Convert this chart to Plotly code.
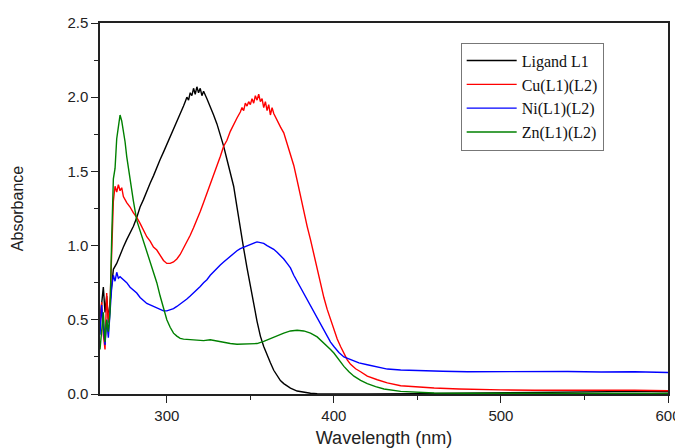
import plotly.graph_objects as go

# ---- data ----
wl_ligand = [260, 261, 262, 263, 264, 265, 266, 267, 268, 270, 272, 274, 276, 278, 280, 282, 284, 286, 288, 290,
             292, 294, 296, 298, 300, 302, 304, 306, 308, 310, 311, 312, 313, 314, 315, 316, 317, 318, 319, 320,
             321, 322, 324, 326, 328, 330, 332, 334, 336, 338, 340, 342, 344, 346, 348, 350, 352, 354, 356, 358,
             360, 362, 364, 366, 368, 370, 374, 378, 382, 386, 390, 400, 420, 450, 480, 500, 520, 540, 560, 580, 600]
abs_ligand = [0.50, 0.62, 0.72, 0.55, 0.66, 0.50, 0.62, 0.75, 0.84, 0.88, 0.94, 0.99, 1.04, 1.08, 1.13, 1.19, 1.26, 1.31, 1.37, 1.42,
              1.47, 1.53, 1.58, 1.63, 1.68, 1.73, 1.79, 1.83, 1.89, 1.94, 1.97, 2.00, 1.98, 2.03, 2.01, 2.06, 2.02, 2.07, 2.03, 2.06,
              2.01, 2.04, 1.99, 1.94, 1.88, 1.82, 1.75, 1.67, 1.58, 1.49, 1.40, 1.26, 1.11, 0.98, 0.85, 0.72, 0.61, 0.49, 0.39, 0.32,
              0.26, 0.21, 0.16, 0.12, 0.09, 0.07, 0.04, 0.02, 0.01, 0.005, 0.002, 0.0, 0.0, 0.002, 0.005, 0.008, 0.012, 0.015, 0.014, 0.018, 0.015]

wl_cu = [260, 261, 262, 263, 264, 265, 266, 267, 268, 269, 270, 271, 272, 273, 274, 276, 278, 280, 282, 284,
         286, 288, 290, 292, 294, 296, 298, 300, 302, 304, 306, 308, 310, 312, 314, 316, 318, 320, 322, 324,
         326, 328, 330, 332, 334, 336, 338, 340, 342, 344, 345, 346, 347, 348, 349, 350, 351, 352, 353, 354,
         355, 356, 357, 358, 359, 360, 361, 362, 363, 364, 366, 368, 370, 372, 374, 376, 378, 380, 382, 384,
         386, 388, 390, 392, 394, 396, 398, 400, 402, 404, 406, 408, 410, 413, 416, 420, 426, 432, 440, 450,
         460, 475, 490, 500, 520, 540, 560, 580, 600]
abs_cu = [0.45, 0.62, 0.40, 0.30, 0.68, 0.48, 0.60, 0.95, 1.30, 1.40, 1.36, 1.41, 1.37, 1.39, 1.33, 1.29, 1.26, 1.22, 1.19, 1.15,
          1.10, 1.06, 1.03, 0.99, 0.97, 0.93, 0.90, 0.88, 0.88, 0.89, 0.91, 0.94, 0.98, 1.02, 1.07, 1.12, 1.17, 1.23, 1.29, 1.35,
          1.41, 1.47, 1.53, 1.60, 1.67, 1.71, 1.77, 1.82, 1.86, 1.90, 1.93, 1.91, 1.96, 1.94, 1.97, 1.95, 1.99, 1.96, 2.01, 1.98,
          2.02, 1.97, 1.99, 1.93, 1.97, 1.91, 1.95, 1.88, 1.93, 1.89, 1.84, 1.80, 1.76, 1.69, 1.62, 1.54, 1.44, 1.33, 1.23, 1.13,
          1.04, 0.94, 0.84, 0.74, 0.65, 0.57, 0.50, 0.44, 0.37, 0.32, 0.27, 0.23, 0.20, 0.17, 0.15, 0.12, 0.096, 0.075, 0.056, 0.046,
          0.040, 0.034, 0.029, 0.028, 0.025, 0.026, 0.023, 0.025, 0.022]

wl_ni = [260, 261, 262, 263, 264, 265, 266, 267, 268, 269, 270, 271, 272, 274, 276, 278, 280, 282, 284, 286,
         288, 290, 292, 294, 296, 298, 300, 302, 304, 306, 308, 310, 312, 314, 316, 318, 320, 322, 324, 326,
         328, 330, 332, 334, 336, 338, 340, 342, 344, 346, 348, 350, 352, 354, 356, 358, 360, 362, 364, 366,
         368, 370, 372, 374, 376, 378, 380, 382, 384, 386, 388, 390, 392, 394, 396, 398, 400, 403, 406, 410,
         415, 420, 426, 432, 440, 450, 465, 480, 500, 520, 540, 560, 580, 600]
abs_ni = [0.40, 0.60, 0.45, 0.33, 0.50, 0.38, 0.55, 0.72, 0.80, 0.76, 0.82, 0.78, 0.79, 0.77, 0.75, 0.72, 0.70, 0.68, 0.65, 0.63,
          0.61, 0.60, 0.59, 0.58, 0.57, 0.56, 0.56, 0.565, 0.575, 0.59, 0.605, 0.62, 0.64, 0.66, 0.68, 0.70, 0.725, 0.75, 0.77, 0.80,
          0.825, 0.85, 0.87, 0.89, 0.91, 0.93, 0.95, 0.965, 0.98, 0.99, 1.00, 1.01, 1.02, 1.025, 1.02, 1.015, 1.00, 0.99, 0.975, 0.955,
          0.935, 0.91, 0.88, 0.85, 0.80, 0.76, 0.72, 0.68, 0.63, 0.59, 0.55, 0.51, 0.47, 0.43, 0.39, 0.35, 0.32, 0.28, 0.25, 0.23,
          0.21, 0.197, 0.18, 0.168, 0.162, 0.157, 0.153, 0.150, 0.152, 0.150, 0.152, 0.148, 0.150, 0.145]

wl_zn = [260, 261, 262, 263, 264, 265, 266, 267, 268, 269, 270, 271, 272, 273, 274, 275, 276, 277, 278, 280,
         282, 284, 286, 288, 290, 292, 294, 296, 298, 300, 302, 304, 306, 308, 310, 314, 318, 322, 326, 330,
         334, 338, 342, 346, 350, 354, 358, 362, 366, 370, 374, 378, 382, 386, 390, 394, 398, 400, 403, 406,
         409, 412, 416, 420, 425, 430, 440, 450, 460, 480, 500, 550, 600]
abs_zn = [0.30, 0.45, 0.55, 0.35, 0.50, 0.42, 0.55, 1.05, 1.45, 1.52, 1.72, 1.80, 1.88, 1.84, 1.78, 1.70, 1.60, 1.52, 1.44, 1.30,
          1.17, 1.10, 1.04, 0.97, 0.90, 0.83, 0.75, 0.66, 0.57, 0.50, 0.45, 0.41, 0.39, 0.375, 0.37, 0.365, 0.36, 0.36, 0.365, 0.355,
          0.345, 0.34, 0.335, 0.335, 0.335, 0.34, 0.355, 0.375, 0.395, 0.41, 0.425, 0.43, 0.425, 0.41, 0.385, 0.345, 0.30, 0.276, 0.23, 0.186,
          0.15, 0.12, 0.092, 0.07, 0.05, 0.034, 0.018, 0.011, 0.007, 0.005, 0.005, 0.004, 0.004]

series_names = ["Ligand L1", "Cu(L1)(L2)", "Ni(L1)(L2)", "Zn(L1)(L2)"]
series_colors = ["#000000", "#ff0000", "#0000ff", "#008000"]
x_tick_vals = [300, 400, 500, 600]
y_tick_vals = [0.0, 0.5, 1.0, 1.5, 2.0, 2.5]
y_tick_text = ["0.0", "0.5", "1.0", "1.5", "2.0", "2.5"]

fig = go.Figure()
for xs, ys, name, col in zip([wl_ligand, wl_cu, wl_ni, wl_zn],
                             [abs_ligand, abs_cu, abs_ni, abs_zn],
                             series_names, series_colors):
    fig.add_trace(go.Scatter(x=xs, y=ys, mode="lines", name=name,
                             line=dict(color=col, width=1.4)))

axis_font = dict(family="Liberation Sans, Arial, sans-serif", size=15, color="#222222")

# the page body adds an 8px offset, so the figure is 8px smaller than the window
fig.update_layout(
    width=675, height=440,
    margin=dict(l=92, r=15, t=15, b=54),
    paper_bgcolor="white", plot_bgcolor="white",
    showlegend=True,
    legend=dict(x=0.635, y=0.947, xanchor="left", yanchor="top",
                bgcolor="white", bordercolor="#777777", borderwidth=1,
                font=dict(family="Liberation Serif, Times New Roman, serif", size=16, color="#111111"),
                tracegroupgap=0, itemwidth=50, entrywidth=110, entrywidthmode="pixels"),
    xaxis=dict(range=[260, 600], tickvals=x_tick_vals, ticks="outside", ticklen=7, tickwidth=1.3,
               tickcolor="#222222", showline=True, linecolor="#222222", linewidth=1.5, mirror=True,
               showgrid=False, zeroline=False, tickfont=axis_font, automargin=False,
               minor=dict(dtick=50, tick0=250, ticks="outside", ticklen=4, tickcolor="#222222", showgrid=False),
               title=dict(text="Wavelength (nm)", font=dict(family="Liberation Sans, Arial, sans-serif", size=18, color="#222222"),
                          standoff=10)),
    yaxis=dict(range=[0, 2.5], tickvals=y_tick_vals, ticktext=y_tick_text, ticks="outside", ticklen=7, tickwidth=1.3,
               tickcolor="#222222", showline=True, linecolor="#222222", linewidth=1.5, mirror=True,
               showgrid=False, zeroline=False, tickfont=axis_font, automargin=False,
               minor=dict(dtick=0.25, tick0=0, ticks="outside", ticklen=4, tickcolor="#222222", showgrid=False),
               title=dict(text="Absorbance", font=dict(family="Liberation Sans, Arial, sans-serif", size=16, color="#222222"),
                          standoff=40)),
)

fig.write_html("out.html")
